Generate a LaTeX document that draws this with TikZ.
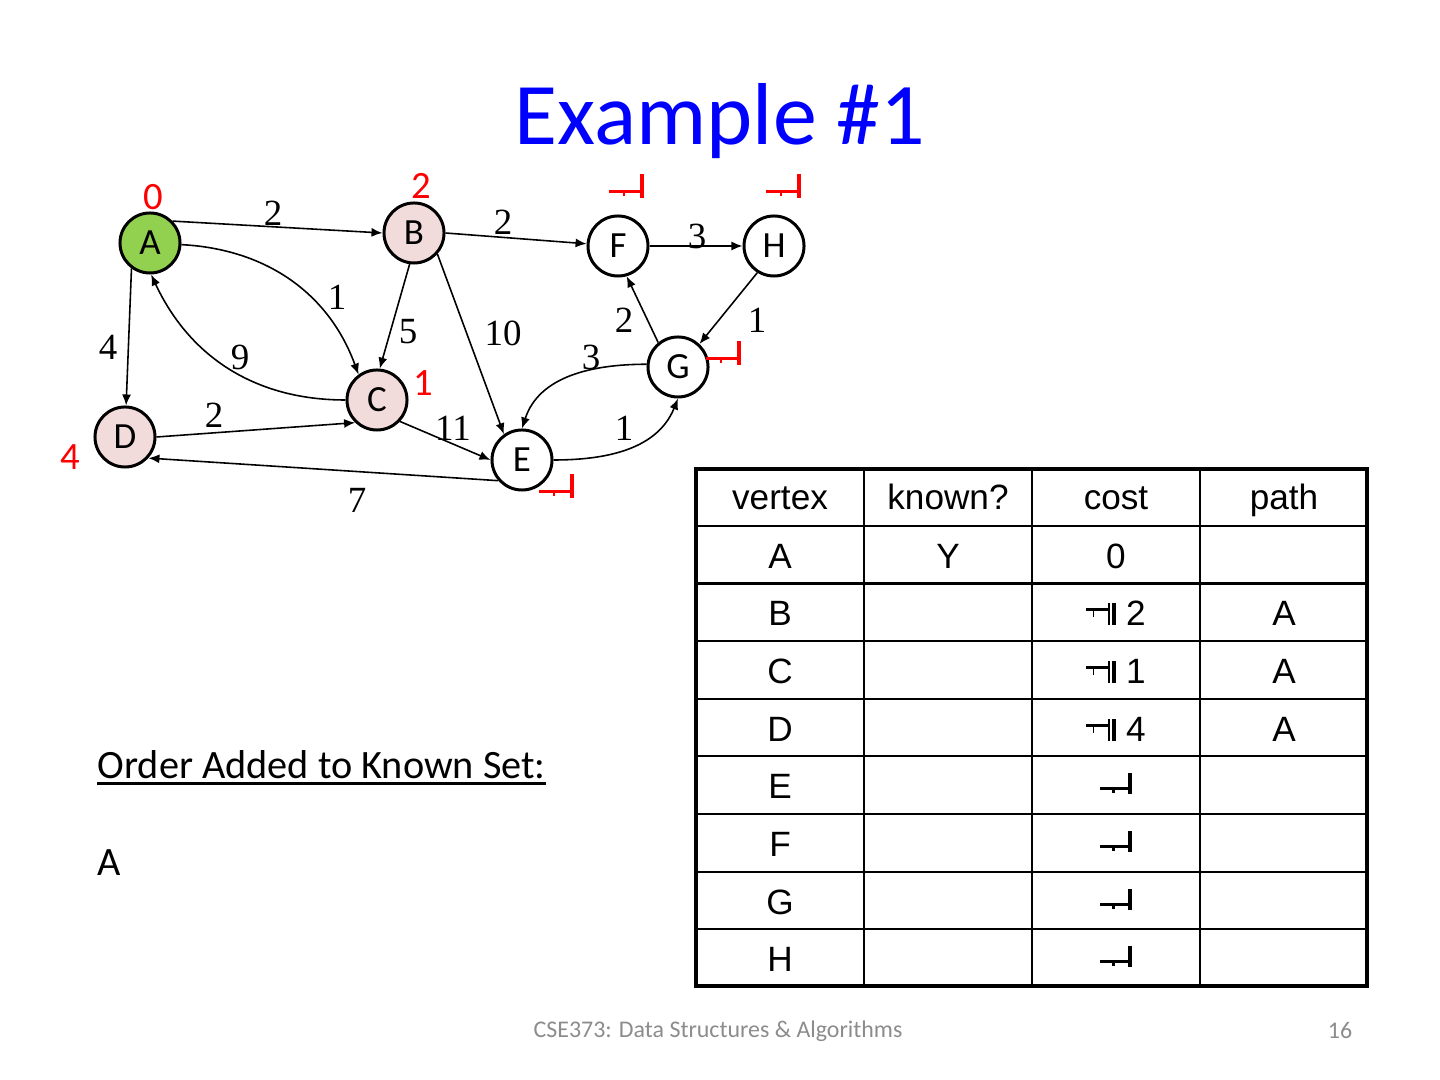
\documentclass[tikz,border=0pt]{standalone}
\usepackage{fontspec}
\setmainfont{Carlito}
\newfontfamily\serifnum{Liberation Serif}
\newfontfamily\arialf{Liberation Sans}
\usetikzlibrary{arrows.meta}
\definecolor{knowngreen}{HTML}{92D050}
\definecolor{frontier}{HTML}{F2DCDB}
\definecolor{titleblue}{HTML}{0000FF}
\definecolor{costred}{HTML}{FF0000}
\definecolor{footgray}{HTML}{8C8C8C}
% broken infinity glyph, as printed
\newcommand\brinf{{\setlength{\unitlength}{1em}\begin{picture}(0.92,0.6)\put(0,0.11){\rule{0.8em}{0.09em}}\put(0.35,0.03){\rule{0.07em}{0.09em}}\put(0.8,0){\rule{0.11em}{0.6em}}\end{picture}}}
% struck-out broken infinity glyph
\newcommand\brinfd{{\setlength{\unitlength}{1em}\begin{picture}(0.85,0.62)\put(0,0.41){\rule{0.62em}{0.07em}}\put(0.18,0.24){\rule{0.05em}{0.17em}}\put(0.62,0){\rule{0.06em}{0.62em}}\put(0.74,0){\rule{0.09em}{0.62em}}\end{picture}}}
\tikzset{
  vtx/.style={circle, draw=black, line width=0.85pt, minimum size=0.6cm, inner sep=0pt,
    font=\fontsize{10.5pt}{12pt}\selectfont},
  edge/.style={line width=0.45pt, -{Latex[length=1.1mm,width=0.9mm]}},
  wlabel/.style={inner sep=0pt, font=\serifnum\fontsize{10.5pt}{12pt}\selectfont},
  clabel/.style={inner sep=0pt, text=costred, font=\fontsize{11pt}{12pt}\selectfont},
  cell/.style={inner sep=0pt, yshift=-0.9pt, text height=0.72em, text depth=0.21em, font=\arialf\fontsize{10pt}{11pt}\selectfont},
  tline/.style={line width=0.6pt},
}
\begin{document}
\begin{tikzpicture}[x=0.01cm, y=-0.01cm]
\path[use as bounding box, fill=white] (0,0) rectangle (1440,1080);

% title
\node[anchor=base, inner sep=0pt, text=titleblue, font=\fontsize{25pt}{28pt}\selectfont] (title) at (720,145) {Example \#1};

% vertices
\node[vtx, fill=knowngreen] (A) at (150,243) {A};
\node[vtx, fill=frontier] (B) at (414,233) {B};
\node[vtx] (F) at (618,246) {F};
\node[vtx] (H) at (774,246) {H};
\node[vtx] (G) at (678,367) {G};
\node[vtx, fill=frontier] (C) at (377,400) {C};
\node[vtx, fill=frontier] (D) at (125,437) {D};
\node[vtx] (E) at (522,460) {E};

% edges
\draw[edge] (A.44) -- (B.west);
\draw[edge] (B.east) -- (F.176);
\draw[edge] (F.east) -- (H.west);
\draw[edge] (H.238) -- (G.47);
\draw[edge] (G.129) -- (F.286);
\draw[edge] (A.234) -- (D.88);
\draw[edge] (A.-3) to[out=-3, in=110] (C.126);
\draw[edge] (C.west) to[out=180, in=-65] (A.272);
\draw[edge] (B.262) -- (C.85);
\draw[edge] (B.318) -- (E.125);
\draw[edge] (D.east) -- (C.226);
\draw[edge] (C.317) -- (E.west);
\draw[edge] (E.221) -- (D.318);
\draw[edge] (G.175) to[out=180, in=72] (E.north);
\draw[edge] (E.east) to[out=0, in=-112] (G.south);

% edge weights
\node[wlabel] (wAB) at (273,213) {2};
\node[wlabel] (wBF) at (503,222) {2};
\node[wlabel] (wFH) at (697,236) {3};
\node[wlabel] (wHG) at (757,320) {1};
\node[wlabel] (wGF) at (624,320) {2};
\node[wlabel] (wAD) at (108,347) {4};
\node[wlabel] (wAC) at (337,297) {1};
\node[wlabel] (wCA) at (240,357) {9};
\node[wlabel] (wBC) at (408,332) {5};
\node[wlabel] (wBE) at (503,333) {10};
\node[wlabel] (wDC) at (214,415) {2};
\node[wlabel] (wCE) at (453,428) {11};
\node[wlabel] (wED) at (357,500) {7};
\node[wlabel] (wGE) at (591,357) {3};
\node[wlabel] (wEG) at (624,428) {1};

% cost labels
\node[clabel] (cA) at (153,197) {0};
\node[clabel] (cB) at (421,186) {2};
\node[clabel] (cF) at (627,186) {\brinf};
\node[clabel] (cH) at (784,186) {\brinf};
\node[clabel] (cG) at (724,353) {\brinf};
\node[clabel] (cC) at (423,383) {1};
\node[clabel] (cD) at (70,457) {4};
\node[clabel] (cE) at (557,486) {\brinf};

% order added
\node[anchor=base west, inner sep=0pt, font=\fontsize{11.45pt}{13pt}\selectfont] (order) at (97,778) {Order Added to Known Set:};
\draw[line width=0.75pt] ([yshift=-1.5pt]order.base west) -- ([yshift=-1.5pt]order.base east);
\node[anchor=base west, inner sep=0pt, font=\fontsize{11.45pt}{13pt}\selectfont] (orderA) at (97,875) {A};

% table
\foreach \yy in {526,583.5,641,699,756,814,872,929} \draw[tline] (696,\yy) -- (1367,\yy);
\foreach \xx in {864,1032,1200} \draw[tline] (\xx,469) -- (\xx,986);
\draw[line width=1.1pt] (696,469) rectangle (1367,986);

\node[cell] (h1) at (780,497) {vertex};
\node[cell] (h2) at (948,497) {known?};
\node[cell] (h3) at (1116,497) {cost};
\node[cell] (h4) at (1284,497) {path};

\node[cell] (rA) at (780,556) {A};
\node[cell] (kA) at (948,556) {Y};
\node[cell] (cstA) at (1116,556) {0};

\node[cell] (rB) at (780,613) {B};
\node[cell] (cstB) at (1116,613) {\brinfd\ 2};
\node[cell] (pB) at (1284,613) {A};

\node[cell] (rC) at (780,671) {C};
\node[cell] (cstC) at (1116,671) {\brinfd\ 1};
\node[cell] (pC) at (1284,671) {A};

\node[cell] (rD) at (780,729) {D};
\node[cell] (cstD) at (1116,729) {\brinfd\ 4};
\node[cell] (pD) at (1284,729) {A};

\node[cell] (rE) at (780,786) {E};
\node[cell] (cstE) at (1116,782) {\brinf};
\node[cell] (rF) at (780,844) {F};
\node[cell] (cstF) at (1116,840) {\brinf};
\node[cell] (rG) at (780,902) {G};
\node[cell] (cstG) at (1116,898) {\brinf};
\node[cell] (rH) at (780,959) {H};
\node[cell] (cstH) at (1116,955) {\brinf};

% footer
\node[inner sep=0pt, text=footgray, font=\fontsize{6.8pt}{8pt}\selectfont] (foot) at (718,1031) {CSE373: Data Structures \& Algorithms};
\node[inner sep=0pt, text=footgray, font=\fontsize{6.8pt}{8pt}\selectfont] (page) at (1340,1031) {16};
\end{tikzpicture}
\end{document}
